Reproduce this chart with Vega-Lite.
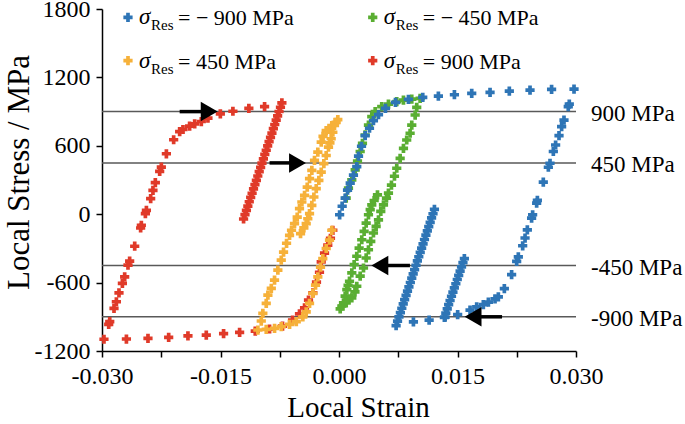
{
  "$schema": "https://vega.github.io/schema/vega-lite/v6.json",
  "width": 474,
  "height": 342,
  "autosize": {"type": "none"},
  "padding": {"left": 102, "top": 9, "right": 109, "bottom": 73},
  "background": "white",
  "config": {
    "view": {"stroke": null},
    "font": "Liberation Serif",
    "axis": {
      "grid": false,
      "domainColor": "black",
      "domainWidth": 1.5,
      "tickColor": "black",
      "tickWidth": 1.5,
      "tickSize": 6,
      "labelFont": "Liberation Serif",
      "labelFontSize": 24,
      "labelColor": "black",
      "labelFlush": false,
      "labelOverlap": false,
      "titleFont": "Liberation Serif",
      "titleFontSize": 30,
      "titleFontWeight": "normal",
      "titleColor": "black"
    }
  },
  "datasets": {
    "levels": [
      {"level": 900, "label": "900 MPa"},
      {"level": 450, "label": "450 MPa"},
      {"level": -450, "label": "-450 MPa"},
      {"level": -900, "label": "-900 MPa"}
    ],
    "arrows": [
      {"level": 900, "tail": -0.02017, "head": -0.01643, "dir": "right"},
      {"level": 450, "tail": -0.00879, "head": -0.00525, "dir": "right"},
      {"level": -450, "tail": 0.00898, "head": 0.00517, "dir": "left"},
      {"level": -900, "tail": 0.02064, "head": 0.01697, "dir": "left"}
    ],
    "pts": [
      {"series": "900", "strain": -0.01208, "stress": -42},
      {"series": "900", "strain": -0.0119, "stress": -4},
      {"series": "900", "strain": -0.01172, "stress": 33},
      {"series": "900", "strain": -0.01154, "stress": 71},
      {"series": "900", "strain": -0.01136, "stress": 109},
      {"series": "900", "strain": -0.01118, "stress": 147},
      {"series": "900", "strain": -0.011, "stress": 184},
      {"series": "900", "strain": -0.01082, "stress": 222},
      {"series": "900", "strain": -0.01064, "stress": 260},
      {"series": "900", "strain": -0.01046, "stress": 297},
      {"series": "900", "strain": -0.01028, "stress": 335},
      {"series": "900", "strain": -0.0101, "stress": 373},
      {"series": "900", "strain": -0.00992, "stress": 410},
      {"series": "900", "strain": -0.00975, "stress": 448},
      {"series": "900", "strain": -0.00957, "stress": 486},
      {"series": "900", "strain": -0.00939, "stress": 524},
      {"series": "900", "strain": -0.00921, "stress": 561},
      {"series": "900", "strain": -0.00903, "stress": 599},
      {"series": "900", "strain": -0.00885, "stress": 637},
      {"series": "900", "strain": -0.00867, "stress": 674},
      {"series": "900", "strain": -0.00849, "stress": 712},
      {"series": "900", "strain": -0.00831, "stress": 750},
      {"series": "900", "strain": -0.00813, "stress": 787},
      {"series": "900", "strain": -0.00795, "stress": 825},
      {"series": "900", "strain": -0.00777, "stress": 863},
      {"series": "900", "strain": -0.00759, "stress": 901},
      {"series": "900", "strain": -0.00741, "stress": 938},
      {"series": "900", "strain": -0.00723, "stress": 977},
      {"series": "900", "strain": -0.00942, "stress": 944},
      {"series": "900", "strain": -0.01141, "stress": 929},
      {"series": "900", "strain": -0.01343, "stress": 903},
      {"series": "900", "strain": -0.01502, "stress": 880},
      {"series": "900", "strain": -0.01659, "stress": 842},
      {"series": "900", "strain": -0.01743, "stress": 813},
      {"series": "900", "strain": -0.01827, "stress": 793},
      {"series": "900", "strain": -0.01891, "stress": 772},
      {"series": "900", "strain": -0.01975, "stress": 743},
      {"series": "900", "strain": -0.02017, "stress": 725},
      {"series": "900", "strain": -0.02093, "stress": 653},
      {"series": "900", "strain": -0.02185, "stress": 530},
      {"series": "900", "strain": -0.02249, "stress": 413},
      {"series": "900", "strain": -0.0227, "stress": 375},
      {"series": "900", "strain": -0.02325, "stress": 277},
      {"series": "900", "strain": -0.02355, "stress": 209},
      {"series": "900", "strain": -0.02384, "stress": 137},
      {"series": "900", "strain": -0.02438, "stress": 34},
      {"series": "900", "strain": -0.02451, "stress": 5},
      {"series": "900", "strain": -0.02502, "stress": -97},
      {"series": "900", "strain": -0.02511, "stress": -121},
      {"series": "900", "strain": -0.02586, "stress": -281},
      {"series": "900", "strain": -0.0265, "stress": -412},
      {"series": "900", "strain": -0.02671, "stress": -447},
      {"series": "900", "strain": -0.02713, "stress": -550},
      {"series": "900", "strain": -0.02742, "stress": -607},
      {"series": "900", "strain": -0.02785, "stress": -690},
      {"series": "900", "strain": -0.02818, "stress": -768},
      {"series": "900", "strain": -0.02848, "stress": -826},
      {"series": "900", "strain": -0.02902, "stress": -943},
      {"series": "900", "strain": -0.02915, "stress": -966},
      {"series": "900", "strain": -0.02975, "stress": -1097},
      {"series": "900", "strain": -0.02691, "stress": -1095},
      {"series": "900", "strain": -0.02418, "stress": -1089},
      {"series": "900", "strain": -0.02156, "stress": -1080},
      {"series": "900", "strain": -0.01912, "stress": -1068},
      {"series": "900", "strain": -0.0168, "stress": -1060},
      {"series": "900", "strain": -0.01461, "stress": -1048},
      {"series": "900", "strain": -0.01258, "stress": -1036},
      {"series": "900", "strain": -0.0106, "stress": -1025},
      {"series": "900", "strain": -0.00879, "stress": -1007},
      {"series": "900", "strain": -0.00715, "stress": -981},
      {"series": "900", "strain": -0.00588, "stress": -929},
      {"series": "900", "strain": -0.005, "stress": -874},
      {"series": "900", "strain": -0.00436, "stress": -821},
      {"series": "900", "strain": -0.00386, "stress": -754},
      {"series": "900", "strain": -0.00331, "stress": -690},
      {"series": "900", "strain": -0.00285, "stress": -596},
      {"series": "900", "strain": -0.00247, "stress": -509},
      {"series": "900", "strain": -0.00225, "stress": -418},
      {"series": "900", "strain": -0.00183, "stress": -342},
      {"series": "900", "strain": -0.00142, "stress": -272},
      {"series": "900", "strain": -0.00108, "stress": -211},
      {"series": "900", "strain": -0.00078, "stress": -141},

      {"series": "450", "strain": -0.00015, "stress": 830},
      {"series": "450", "strain": -0.00036, "stress": 805},
      {"series": "450", "strain": -0.00057, "stress": 778},
      {"series": "450", "strain": -0.00078, "stress": 719},
      {"series": "450", "strain": -0.00099, "stress": 662},
      {"series": "450", "strain": -0.00115, "stress": 625},
      {"series": "450", "strain": -0.00133, "stress": 588},
      {"series": "450", "strain": -0.00162, "stress": 515},
      {"series": "450", "strain": -0.00192, "stress": 443},
      {"series": "450", "strain": -0.00225, "stress": 369},
      {"series": "450", "strain": -0.00255, "stress": 297},
      {"series": "450", "strain": -0.00288, "stress": 224},
      {"series": "450", "strain": -0.00318, "stress": 151},
      {"series": "450", "strain": -0.00344, "stress": 78},
      {"series": "450", "strain": -0.00373, "stress": 5},
      {"series": "450", "strain": -0.00395, "stress": -40},
      {"series": "450", "strain": -0.00415, "stress": -82},
      {"series": "450", "strain": -0.00445, "stress": -120},
      {"series": "450", "strain": -0.00487, "stress": -170},
      {"series": "450", "strain": -0.00091, "stress": 778},
      {"series": "450", "strain": -0.0012, "stress": 745},
      {"series": "450", "strain": -0.00162, "stress": 734},
      {"series": "450", "strain": -0.00202, "stress": 682},
      {"series": "450", "strain": -0.00225, "stress": 632},
      {"series": "450", "strain": -0.00268, "stress": 544},
      {"series": "450", "strain": -0.0031, "stress": 472},
      {"series": "450", "strain": -0.00344, "stress": 384},
      {"series": "450", "strain": -0.00373, "stress": 312},
      {"series": "450", "strain": -0.00402, "stress": 238},
      {"series": "450", "strain": -0.00436, "stress": 165},
      {"series": "450", "strain": -0.0047, "stress": 107},
      {"series": "450", "strain": -0.005, "stress": 49},
      {"series": "450", "strain": -0.00529, "stress": -25},
      {"series": "450", "strain": -0.00563, "stress": -82},
      {"series": "450", "strain": -0.00601, "stress": -141},
      {"series": "450", "strain": -0.00626, "stress": -185},
      {"series": "450", "strain": -0.00664, "stress": -255},
      {"series": "450", "strain": -0.00702, "stress": -333},
      {"series": "450", "strain": -0.00731, "stress": -403},
      {"series": "450", "strain": -0.00774, "stress": -490},
      {"series": "450", "strain": -0.00816, "stress": -578},
      {"series": "450", "strain": -0.00857, "stress": -651},
      {"series": "450", "strain": -0.009, "stress": -710},
      {"series": "450", "strain": -0.00921, "stress": -782},
      {"series": "450", "strain": -0.00964, "stress": -870},
      {"series": "450", "strain": -0.00984, "stress": -937},
      {"series": "450", "strain": -0.01027, "stress": -1016},
      {"series": "450", "strain": -0.00921, "stress": -1010},
      {"series": "450", "strain": -0.00816, "stress": -1001},
      {"series": "450", "strain": -0.00731, "stress": -987},
      {"series": "450", "strain": -0.00626, "stress": -966},
      {"series": "450", "strain": -0.00541, "stress": -943},
      {"series": "450", "strain": -0.00458, "stress": -900},
      {"series": "450", "strain": -0.00415, "stress": -856},
      {"series": "450", "strain": -0.00373, "stress": -782},
      {"series": "450", "strain": -0.00331, "stress": -695},
      {"series": "450", "strain": -0.00297, "stress": -622},
      {"series": "450", "strain": -0.00268, "stress": -550},
      {"series": "450", "strain": -0.00234, "stress": -465},
      {"series": "450", "strain": -0.00205, "stress": -389},
      {"series": "450", "strain": -0.00162, "stress": -301},
      {"series": "450", "strain": -0.0012, "stress": -228},
      {"series": "450", "strain": -0.00091, "stress": -141},

      {"series": "-450", "strain": 0.00015, "stress": -830},
      {"series": "-450", "strain": 0.00036, "stress": -805},
      {"series": "-450", "strain": 0.00057, "stress": -778},
      {"series": "-450", "strain": 0.00078, "stress": -719},
      {"series": "-450", "strain": 0.00099, "stress": -662},
      {"series": "-450", "strain": 0.00115, "stress": -625},
      {"series": "-450", "strain": 0.00133, "stress": -588},
      {"series": "-450", "strain": 0.00162, "stress": -515},
      {"series": "-450", "strain": 0.00192, "stress": -443},
      {"series": "-450", "strain": 0.00225, "stress": -369},
      {"series": "-450", "strain": 0.00255, "stress": -297},
      {"series": "-450", "strain": 0.00288, "stress": -224},
      {"series": "-450", "strain": 0.00318, "stress": -151},
      {"series": "-450", "strain": 0.00344, "stress": -78},
      {"series": "-450", "strain": 0.00373, "stress": -5},
      {"series": "-450", "strain": 0.00395, "stress": 40},
      {"series": "-450", "strain": 0.00415, "stress": 82},
      {"series": "-450", "strain": 0.00445, "stress": 120},
      {"series": "-450", "strain": 0.00487, "stress": 170},
      {"series": "-450", "strain": 0.00091, "stress": -778},
      {"series": "-450", "strain": 0.0012, "stress": -745},
      {"series": "-450", "strain": 0.00162, "stress": -734},
      {"series": "-450", "strain": 0.00202, "stress": -682},
      {"series": "-450", "strain": 0.00225, "stress": -632},
      {"series": "-450", "strain": 0.00268, "stress": -544},
      {"series": "-450", "strain": 0.0031, "stress": -472},
      {"series": "-450", "strain": 0.00344, "stress": -384},
      {"series": "-450", "strain": 0.00373, "stress": -312},
      {"series": "-450", "strain": 0.00402, "stress": -238},
      {"series": "-450", "strain": 0.00436, "stress": -165},
      {"series": "-450", "strain": 0.0047, "stress": -107},
      {"series": "-450", "strain": 0.005, "stress": -49},
      {"series": "-450", "strain": 0.00529, "stress": 25},
      {"series": "-450", "strain": 0.00563, "stress": 82},
      {"series": "-450", "strain": 0.00601, "stress": 141},
      {"series": "-450", "strain": 0.00626, "stress": 185},
      {"series": "-450", "strain": 0.00664, "stress": 255},
      {"series": "-450", "strain": 0.00702, "stress": 333},
      {"series": "-450", "strain": 0.00731, "stress": 403},
      {"series": "-450", "strain": 0.00774, "stress": 490},
      {"series": "-450", "strain": 0.00816, "stress": 578},
      {"series": "-450", "strain": 0.00857, "stress": 651},
      {"series": "-450", "strain": 0.009, "stress": 710},
      {"series": "-450", "strain": 0.00921, "stress": 782},
      {"series": "-450", "strain": 0.00964, "stress": 870},
      {"series": "-450", "strain": 0.00984, "stress": 937},
      {"series": "-450", "strain": 0.01027, "stress": 1016},
      {"series": "-450", "strain": 0.00921, "stress": 1010},
      {"series": "-450", "strain": 0.00816, "stress": 1001},
      {"series": "-450", "strain": 0.00731, "stress": 987},
      {"series": "-450", "strain": 0.00626, "stress": 966},
      {"series": "-450", "strain": 0.00541, "stress": 943},
      {"series": "-450", "strain": 0.00458, "stress": 900},
      {"series": "-450", "strain": 0.00415, "stress": 856},
      {"series": "-450", "strain": 0.00373, "stress": 782},
      {"series": "-450", "strain": 0.00331, "stress": 695},
      {"series": "-450", "strain": 0.00297, "stress": 622},
      {"series": "-450", "strain": 0.00268, "stress": 550},
      {"series": "-450", "strain": 0.00234, "stress": 465},
      {"series": "-450", "strain": 0.00205, "stress": 389},
      {"series": "-450", "strain": 0.00162, "stress": 301},
      {"series": "-450", "strain": 0.0012, "stress": 228},
      {"series": "-450", "strain": 0.00091, "stress": 141},

      {"series": "-900", "strain": 0.01208, "stress": 42},
      {"series": "-900", "strain": 0.0119, "stress": 4},
      {"series": "-900", "strain": 0.01172, "stress": -33},
      {"series": "-900", "strain": 0.01154, "stress": -71},
      {"series": "-900", "strain": 0.01136, "stress": -109},
      {"series": "-900", "strain": 0.01118, "stress": -147},
      {"series": "-900", "strain": 0.011, "stress": -184},
      {"series": "-900", "strain": 0.01082, "stress": -222},
      {"series": "-900", "strain": 0.01064, "stress": -260},
      {"series": "-900", "strain": 0.01046, "stress": -297},
      {"series": "-900", "strain": 0.01028, "stress": -335},
      {"series": "-900", "strain": 0.0101, "stress": -373},
      {"series": "-900", "strain": 0.00992, "stress": -410},
      {"series": "-900", "strain": 0.00975, "stress": -448},
      {"series": "-900", "strain": 0.00957, "stress": -486},
      {"series": "-900", "strain": 0.00939, "stress": -524},
      {"series": "-900", "strain": 0.00921, "stress": -561},
      {"series": "-900", "strain": 0.00903, "stress": -599},
      {"series": "-900", "strain": 0.00885, "stress": -637},
      {"series": "-900", "strain": 0.00867, "stress": -674},
      {"series": "-900", "strain": 0.00849, "stress": -712},
      {"series": "-900", "strain": 0.00831, "stress": -750},
      {"series": "-900", "strain": 0.00813, "stress": -787},
      {"series": "-900", "strain": 0.00795, "stress": -825},
      {"series": "-900", "strain": 0.00777, "stress": -863},
      {"series": "-900", "strain": 0.00759, "stress": -901},
      {"series": "-900", "strain": 0.00741, "stress": -938},
      {"series": "-900", "strain": 0.00723, "stress": -977},
      {"series": "-900", "strain": 0.00942, "stress": -944},
      {"series": "-900", "strain": 0.01141, "stress": -929},
      {"series": "-900", "strain": 0.01343, "stress": -903},
      {"series": "-900", "strain": 0.01502, "stress": -880},
      {"series": "-900", "strain": 0.01334, "stress": -905},
      {"series": "-900", "strain": 0.01352, "stress": -868},
      {"series": "-900", "strain": 0.0137, "stress": -831},
      {"series": "-900", "strain": 0.01388, "stress": -794},
      {"series": "-900", "strain": 0.01406, "stress": -757},
      {"series": "-900", "strain": 0.01424, "stress": -720},
      {"series": "-900", "strain": 0.01442, "stress": -684},
      {"series": "-900", "strain": 0.0146, "stress": -647},
      {"series": "-900", "strain": 0.01479, "stress": -610},
      {"series": "-900", "strain": 0.01497, "stress": -573},
      {"series": "-900", "strain": 0.01515, "stress": -536},
      {"series": "-900", "strain": 0.01533, "stress": -499},
      {"series": "-900", "strain": 0.01551, "stress": -462},
      {"series": "-900", "strain": 0.01569, "stress": -425},
      {"series": "-900", "strain": 0.01587, "stress": -389},
      {"series": "-900", "strain": 0.01659, "stress": -842},
      {"series": "-900", "strain": 0.01743, "stress": -813},
      {"series": "-900", "strain": 0.01827, "stress": -793},
      {"series": "-900", "strain": 0.01891, "stress": -772},
      {"series": "-900", "strain": 0.01975, "stress": -743},
      {"series": "-900", "strain": 0.02017, "stress": -725},
      {"series": "-900", "strain": 0.02093, "stress": -653},
      {"series": "-900", "strain": 0.02185, "stress": -530},
      {"series": "-900", "strain": 0.02249, "stress": -413},
      {"series": "-900", "strain": 0.0227, "stress": -375},
      {"series": "-900", "strain": 0.02325, "stress": -277},
      {"series": "-900", "strain": 0.02355, "stress": -209},
      {"series": "-900", "strain": 0.02384, "stress": -137},
      {"series": "-900", "strain": 0.02438, "stress": -34},
      {"series": "-900", "strain": 0.02451, "stress": -5},
      {"series": "-900", "strain": 0.02502, "stress": 97},
      {"series": "-900", "strain": 0.02511, "stress": 121},
      {"series": "-900", "strain": 0.02586, "stress": 281},
      {"series": "-900", "strain": 0.0265, "stress": 412},
      {"series": "-900", "strain": 0.02671, "stress": 447},
      {"series": "-900", "strain": 0.02713, "stress": 550},
      {"series": "-900", "strain": 0.02742, "stress": 607},
      {"series": "-900", "strain": 0.02785, "stress": 690},
      {"series": "-900", "strain": 0.02818, "stress": 768},
      {"series": "-900", "strain": 0.02848, "stress": 826},
      {"series": "-900", "strain": 0.02902, "stress": 943},
      {"series": "-900", "strain": 0.02915, "stress": 966},
      {"series": "-900", "strain": 0.02975, "stress": 1097},
      {"series": "-900", "strain": 0.02691, "stress": 1095},
      {"series": "-900", "strain": 0.02418, "stress": 1089},
      {"series": "-900", "strain": 0.02156, "stress": 1080},
      {"series": "-900", "strain": 0.01912, "stress": 1068},
      {"series": "-900", "strain": 0.0168, "stress": 1060},
      {"series": "-900", "strain": 0.01461, "stress": 1048},
      {"series": "-900", "strain": 0.01258, "stress": 1036},
      {"series": "-900", "strain": 0.0106, "stress": 1025},
      {"series": "-900", "strain": 0.00879, "stress": 1007},
      {"series": "-900", "strain": 0.00715, "stress": 981},
      {"series": "-900", "strain": 0.00588, "stress": 929},
      {"series": "-900", "strain": 0.005, "stress": 874},
      {"series": "-900", "strain": 0.00436, "stress": 821},
      {"series": "-900", "strain": 0.00386, "stress": 754},
      {"series": "-900", "strain": 0.00331, "stress": 690},
      {"series": "-900", "strain": 0.00285, "stress": 596},
      {"series": "-900", "strain": 0.00247, "stress": 509},
      {"series": "-900", "strain": 0.00225, "stress": 418},
      {"series": "-900", "strain": 0.00183, "stress": 342},
      {"series": "-900", "strain": 0.00142, "stress": 272},
      {"series": "-900", "strain": 0.00108, "stress": 211},
      {"series": "-900", "strain": 0.00078, "stress": 141},
      {"series": "-900", "strain": 0.0004, "stress": 70},
      {"series": "-900", "strain": 0.00008, "stress": -5}
    ]
  },
  "layer": [
    {
      "data": {"name": "levels"},
      "mark": {"type": "rule", "color": "#595959", "strokeWidth": 1.5},
      "encoding": {
        "x": {"datum": -0.03, "type": "quantitative"},
        "x2": {"datum": 0.03},
        "y": {"field": "level", "type": "quantitative"}
      }
    },
    {
      "data": {"name": "levels"},
      "mark": {"type": "text", "align": "left", "baseline": "middle", "dx": 15, "dy": 2, "fontSize": 23, "font": "Liberation Serif", "color": "black"},
      "encoding": {
        "x": {"datum": 0.03, "type": "quantitative"},
        "y": {"field": "level", "type": "quantitative"},
        "text": {"field": "label"}
      }
    },
    {
      "data": {"name": "pts"},
      "mark": {"type": "point", "shape": "cross", "filled": true, "size": 85, "opacity": 1},
      "encoding": {
        "x": {
          "field": "strain", "type": "quantitative", "title": "Local Strain",
          "scale": {"domain": [-0.03, 0.03], "nice": false, "zero": false},
          "axis": {
            "values": [-0.03, -0.0225, -0.015, -0.0075, 0, 0.0075, 0.015, 0.0225, 0.03],
            "labelExpr": "round(datum.value * 10000) % 150 == 0 ? replace(format(datum.value, '.3f'), '\u2212', '-') : ''",
            "labelPadding": 7,
            "titlePadding": 5,
            "titleX": 256,
            "titleFontSize": 29
          }
        },
        "y": {
          "field": "stress", "type": "quantitative", "title": "Local Stress / MPa",
          "scale": {"domain": [-1200, 1800], "nice": false, "zero": false},
          "axis": {
            "values": [-1200, -900, -600, -300, 0, 300, 600, 900, 1200, 1500, 1800],
            "labelExpr": "datum.value % 600 == 0 ? '' + datum.value : ''",
            "labelPadding": 6,
            "titleX": -67,
            "titleY": 163,
            "titleFontSize": 31
          }
        },
        "color": {
          "field": "series", "type": "nominal", "legend": null,
          "scale": {"domain": ["-900", "-450", "450", "900"], "range": ["#2e75b6", "#5aae32", "#f6b13a", "#e03a29"]}
        }
      }
    },
    {
      "data": {"name": "arrows"},
      "mark": {"type": "rule", "color": "black", "strokeWidth": 3.5},
      "encoding": {
        "x": {"field": "tail", "type": "quantitative"},
        "x2": {"field": "head"},
        "y": {"field": "level", "type": "quantitative"}
      }
    },
    {
      "data": {"name": "arrows"},
      "mark": {"type": "point", "filled": true, "size": 380, "color": "black", "opacity": 1},
      "encoding": {
        "x": {"field": "head", "type": "quantitative"},
        "y": {"field": "level", "type": "quantitative"},
        "shape": {"field": "dir", "type": "nominal", "legend": null, "scale": {"domain": ["right", "left"], "range": ["triangle-right", "triangle-left"]}}
      }
    },
    {
      "data": {"values": [{"series": "-900", "sub": "Res", "rest": "= \u2212 900 MPa"}]},
      "encoding": {"x": {"datum": -0.02671, "type": "quantitative"}, "y": {"datum": 1726, "type": "quantitative"}},
      "layer": [
        {"mark": {"type": "point", "shape": "cross", "filled": true, "size": 85, "opacity": 1, "color": "#2e75b6"}},
        {"mark": {"type": "text", "text": "σ", "align": "left", "baseline": "alphabetic", "dx": 11, "dy": 7, "fontSize": 23, "fontStyle": "italic", "font": "Liberation Serif", "color": "black"}},
        {"mark": {"type": "text", "align": "left", "baseline": "alphabetic", "dx": 23, "dy": 13, "fontSize": 15, "font": "Liberation Serif", "color": "black"}, "encoding": {"text": {"field": "sub"}}},
        {"mark": {"type": "text", "align": "left", "baseline": "alphabetic", "dx": 50, "dy": 8, "fontSize": 22, "font": "Liberation Serif", "color": "black"}, "encoding": {"text": {"field": "rest"}}}
      ]
    },
    {
      "data": {"values": [{"series": "-450", "sub": "Res", "rest": "= \u2212 450 MPa"}]},
      "encoding": {"x": {"datum": 0.00427, "type": "quantitative"}, "y": {"datum": 1726, "type": "quantitative"}},
      "layer": [
        {"mark": {"type": "point", "shape": "cross", "filled": true, "size": 85, "opacity": 1, "color": "#5aae32"}},
        {"mark": {"type": "text", "text": "σ", "align": "left", "baseline": "alphabetic", "dx": 11, "dy": 7, "fontSize": 23, "fontStyle": "italic", "font": "Liberation Serif", "color": "black"}},
        {"mark": {"type": "text", "align": "left", "baseline": "alphabetic", "dx": 23, "dy": 13, "fontSize": 15, "font": "Liberation Serif", "color": "black"}, "encoding": {"text": {"field": "sub"}}},
        {"mark": {"type": "text", "align": "left", "baseline": "alphabetic", "dx": 50, "dy": 8, "fontSize": 22, "font": "Liberation Serif", "color": "black"}, "encoding": {"text": {"field": "rest"}}}
      ]
    },
    {
      "data": {"values": [{"series": "450", "sub": "Res", "rest": "= 450 MPa"}]},
      "encoding": {"x": {"datum": -0.02671, "type": "quantitative"}, "y": {"datum": 1347, "type": "quantitative"}},
      "layer": [
        {"mark": {"type": "point", "shape": "cross", "filled": true, "size": 85, "opacity": 1, "color": "#f6b13a"}},
        {"mark": {"type": "text", "text": "σ", "align": "left", "baseline": "alphabetic", "dx": 11, "dy": 7, "fontSize": 23, "fontStyle": "italic", "font": "Liberation Serif", "color": "black"}},
        {"mark": {"type": "text", "align": "left", "baseline": "alphabetic", "dx": 23, "dy": 13, "fontSize": 15, "font": "Liberation Serif", "color": "black"}, "encoding": {"text": {"field": "sub"}}},
        {"mark": {"type": "text", "align": "left", "baseline": "alphabetic", "dx": 50, "dy": 8, "fontSize": 22, "font": "Liberation Serif", "color": "black"}, "encoding": {"text": {"field": "rest"}}}
      ]
    },
    {
      "data": {"values": [{"series": "900", "sub": "Res", "rest": "= 900 MPa"}]},
      "encoding": {"x": {"datum": 0.00427, "type": "quantitative"}, "y": {"datum": 1347, "type": "quantitative"}},
      "layer": [
        {"mark": {"type": "point", "shape": "cross", "filled": true, "size": 85, "opacity": 1, "color": "#e03a29"}},
        {"mark": {"type": "text", "text": "σ", "align": "left", "baseline": "alphabetic", "dx": 11, "dy": 7, "fontSize": 23, "fontStyle": "italic", "font": "Liberation Serif", "color": "black"}},
        {"mark": {"type": "text", "align": "left", "baseline": "alphabetic", "dx": 23, "dy": 13, "fontSize": 15, "font": "Liberation Serif", "color": "black"}, "encoding": {"text": {"field": "sub"}}},
        {"mark": {"type": "text", "align": "left", "baseline": "alphabetic", "dx": 50, "dy": 8, "fontSize": 22, "font": "Liberation Serif", "color": "black"}, "encoding": {"text": {"field": "rest"}}}
      ]
    }
  ]
}
